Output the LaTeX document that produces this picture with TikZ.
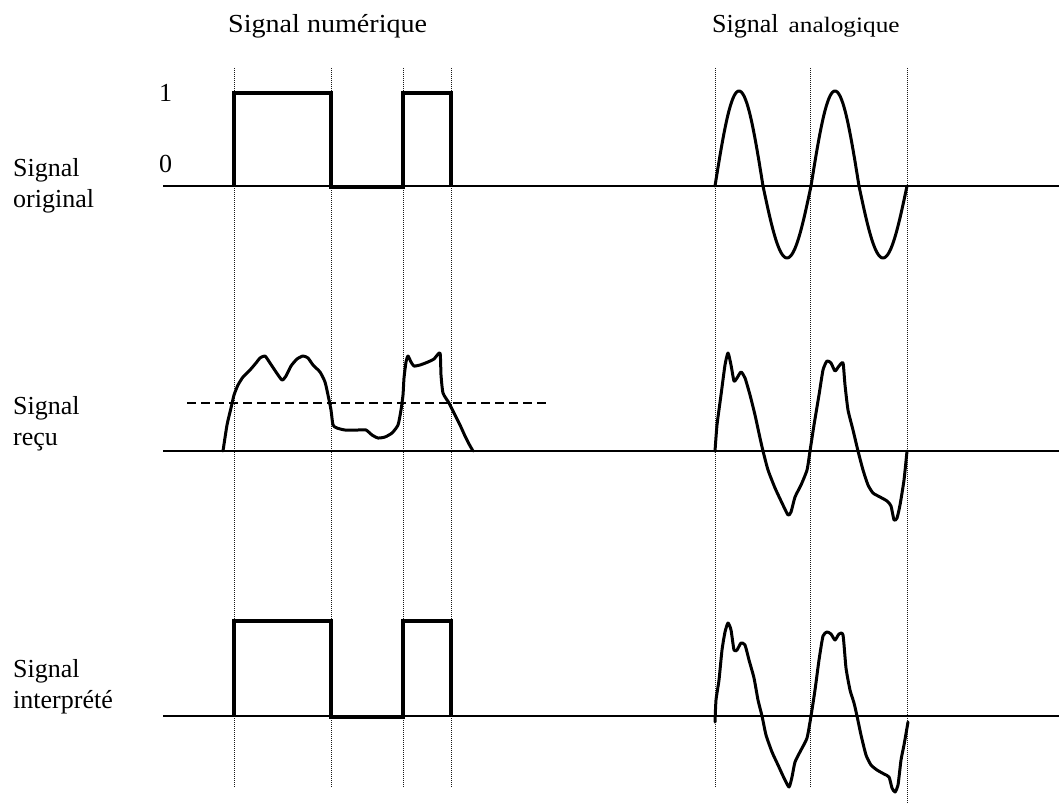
\documentclass[tikz,border=0pt]{standalone}
\usepackage{fontspec}
\setmainfont{Liberation Serif}
\begin{document}
\begin{tikzpicture}[x=1pt,y=-1pt,
  lbl/.style={inner sep=0pt,anchor=base west,align=left,font=\fontsize{26}{31}\selectfont},
  guide/.style={line width=1pt,black!90,dash pattern=on 1pt off 1pt},
  axis/.style={line width=1.8pt},
  pulse/.style={line width=3.5pt,line join=miter},
  wave/.style={line width=3pt,line join=round,line cap=round},
  thresh/.style={line width=1.2pt,dash pattern=on 9pt off 5pt}]
\useasboundingbox (0,0) rectangle (1059,805);
% titles
\node[lbl,xscale=1.08] (tnum) at (228,33) {Signal numérique};
\node[lbl] (tana) at (712,33) {Signal\hspace{10pt}\scalebox{1.15}[1]{\fontsize{22}{24}\selectfont analogique}};
% row labels (base anchor = last line)
\node[lbl] (lorig) at (13,207) {Signal\\original};
\node[lbl] (lrecu) at (13,445) {Signal\\reçu};
\node[lbl] (linterp) at (13,708) {Signal\\interprété};
\node[lbl] (one) at (159,102) {1};
\node[lbl] (zero) at (159,173) {0};
% guide lines
\foreach \x in {234,331,403,451,715,810}{\draw[guide] (\x,68) -- (\x,787);}
\draw[guide] (907,68) -- (907,803);
% axes
\coordinate (a1w) at (163,186); \coordinate (a1e) at (1059,186);
\coordinate (a2w) at (163,451); \coordinate (a2e) at (1059,451);
\coordinate (a3w) at (163,716); \coordinate (a3e) at (1059,716);
\draw[axis] (a1w) -- (a1e);
\draw[axis] (a2w) -- (a2e);
\draw[axis] (a3w) -- (a3e);
% digital original
\draw[pulse] (234,186) -- (234,93) -- (331,93) -- (331,187) -- (403,187) -- (403,93) -- (451,93) -- (451,186);
% digital interpreted
\draw[pulse] (234,716) -- (234,621) -- (331,621) -- (331,717) -- (403,717) -- (403,621) -- (451,621) -- (451,716);
% threshold
\coordinate (thw) at (187,403); \coordinate (the) at (547,403);
\draw[thresh] (thw) -- (the);
% digital received
\draw[wave] plot[smooth,tension=0.35] coordinates {(223,451) (227,425) (231,408) (234,395) (238,385) (243,377) (250,370) (256,363) (260,358) (265,356) (270,363) (276,372) (282,380) (286,376) (291,366) (297,359) (303,356) (308,358) (313,365) (320,372) (325,382) (328,395) (331,410) (333,425) (337,428) (345,430) (358,430) (366,430) (372,435) (378,438) (385,437) (392,433) (398,425) (401,410) (403,395) (404,378) (406,362) (408,356) (411,362) (414,366) (420,365) (428,362) (434,359) (440,353) (441,375) (443,393) (449,403) (454,413) (460,425) (465,436) (469,444) (473,451)};
% analog original
\draw[wave] plot[domain=0:720,samples=181,variable=\t,smooth] ({715+\t*0.266667},{186-sin(\t)*(sin(\t)>0?95:72)});
% analog received
\draw[wave] plot[smooth,tension=0.35] coordinates {(715,451) (717,425) (721,395) (725,365) (728,353) (731,365) (734,381) (737,378) (741,372) (745,378) (750,395) (755,415) (760,438) (763,451) (768,470) (775,488) (782,503) (788,515) (791,512) (795,497) (801,485) (807,470) (810,451) (814,425) (819,395) (823,370) (827,361) (831,363) (835,371) (839,366) (843,363) (845,385) (848,410) (853,430) (858,451) (863,470) (868,485) (873,493) (880,497) (887,501) (891,506) (894,520) (897,518) (900,505) (904,480) (907,451)};
% analog interpreted
\draw[wave] plot[smooth,tension=0.35] coordinates {(715,722) (716,700) (719,680) (722,650) (725,632) (728,623) (731,630) (734,650) (737,650) (741,643) (745,645) (749,660) (754,678) (758,700) (762,716) (766,735) (772,752) (778,765) (784,778) (789,787) (792,777) (795,762) (801,750) (807,738) (811,716) (815,690) (819,660) (823,636) (827,632) (831,634) (835,640) (839,634) (843,635) (846,668) (850,690) (854,703) (857,716) (861,735) (866,755) (871,765) (877,770) (884,774) (889,777) (892,788) (895,792) (898,785) (901,760) (904,745) (908,722)};
\end{tikzpicture}
\end{document}
